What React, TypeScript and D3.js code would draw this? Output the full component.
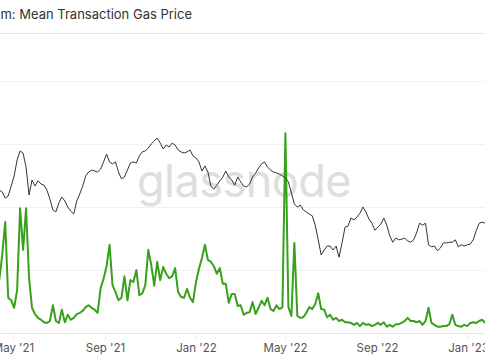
import React from 'react';
import * as d3 from 'd3';

// one sample every 4 days, starting 2021-04-12
const startDate = new Date(Date.UTC(2021, 3, 12));
const stepDays = 4;

// ETH price (USD), black line, log scale
const priceValues = [
  2470, 2410, 2230, 2290, 2600, 2960, 3630, 4070, 3960, 3310,
  2320, 2810, 2600, 2780, 2670, 2630, 2470, 2200, 1920, 1870,
  2100, 2260, 2150, 1990, 1890, 1820, 2150, 2350, 2600, 2960,
  3110, 3190, 3150, 3110, 3230, 3540, 3910, 3540, 3450, 3540,
  3110, 2850, 2920, 3190, 3490, 3540, 3490, 3820, 4020, 4070,
  4230, 4450, 4620, 4800, 4500, 4170, 4390, 4280, 4500, 4390,
  4120, 4020, 3960, 4020, 4120, 3820, 3720, 3540, 3150, 3360,
  3110, 2600, 2500, 2630, 2780, 2920, 3150, 2920, 2810, 2630,
  2920, 2740, 2600, 2570, 2670, 2920, 3070, 3270, 3450, 3540,
  3310, 3190, 3110, 3070, 3030, 2960, 2880, 2740, 2380, 2070,
  1990, 2040, 1920, 1870, 1820, 1780, 1580, 1310, 1080, 1150,
  1210, 1210, 1150, 1210, 1050, 1260, 1540, 1560, 1730, 1690,
  1750, 1840, 1990, 1870, 1710, 1620, 1480, 1540, 1600, 1730,
  1580, 1380, 1270, 1340, 1310, 1320, 1340, 1290, 1270, 1310,
  1430, 1620, 1580, 1620, 1230, 1200, 1210, 1140, 1180, 1260,
  1260, 1270, 1270, 1310, 1200, 1230, 1210, 1230, 1240, 1310,
  1470, 1620, 1640, 1620, 1670,
];

// mean transaction gas price (Gwei), green line
const gasValues = [
  84, 124, 176, 56, 52, 40, 68, 198, 132, 198,
  87, 40, 30, 24, 21, 17, 16, 19, 44, 19,
  16, 37, 17, 29, 21, 24, 30, 32, 35, 41,
  44, 40, 37, 32, 71, 86, 106, 140, 76, 65,
  52, 56, 90, 52, 84, 81, 100, 60, 63, 76,
  132, 108, 75, 113, 84, 105, 94, 87, 90, 103,
  65, 57, 56, 70, 56, 49, 81, 102, 119, 140,
  116, 113, 106, 94, 103, 78, 78, 48, 62, 62,
  43, 44, 29, 32, 33, 49, 30, 40, 51, 44,
  56, 38, 35, 44, 38, 41, 317, 41, 27, 143,
  27, 24, 25, 32, 41, 38, 46, 63, 38, 37,
  25, 29, 21, 24, 19, 21, 17, 17, 16, 13,
  16, 11, 16, 13, 14, 11, 13, 16, 13, 17,
  10, 13, 10, 14, 14, 16, 19, 24, 19, 19,
  17, 19, 13, 19, 40, 16, 13, 10, 10, 11,
  11, 14, 29, 13, 11, 10, 13, 11, 16, 17,
  16, 19, 21, 16, 19,
];

const gasGrid = [100, 200, 300, 400];
const tickDates = ['2021-05-01', '2021-09-01', '2022-01-01', '2022-05-01', '2022-09-01', '2023-01-01'];

const W = 485;
const H = 360;

export default function App() {
  const dates = priceValues.map((_, i) => d3.utcDay.offset(startDate, i * stepDays));

  const x = d3.scaleUtc()
    .domain([new Date(Date.UTC(2021, 4, 1)), new Date(Date.UTC(2023, 0, 1))])
    .range([13.4, 468]);
  const yPrice = d3.scaleLog().domain([1000, 4800]).range([261, 138]);
  const yGas = d3.scaleLinear().domain([0, 400]).range([333, 81]);

  const priceLine = d3.line<number>()
    .x((_, i) => x(dates[i]))
    .y((d) => yPrice(d));
  const gasLine = d3.line<number>()
    .x((_, i) => x(dates[i]))
    .y((d) => yGas(d));

  const fmt = d3.utcFormat("%b '%y");
  const font = 'Inter, "Open Sans", sans-serif';

  return (
    <svg width={W} height={H} style={{ position: 'fixed', left: 0, top: 0, background: '#fff' }}>
      <text x={192} y={19} textAnchor="end" fontFamily={font} fontSize={13} fill="#333">
        Ethereum: Mean Transaction Gas Price
      </text>
      <line x1={0} x2={W} y1={33.5} y2={33.5} stroke="#e4e4e4" />

      {gasGrid.map((g) => (
        <line key={g} x1={0} x2={W} y1={Math.round(yGas(g)) + 0.5} y2={Math.round(yGas(g)) + 0.5} stroke="#f0f0f0" />
      ))}
      <line x1={0} x2={W} y1={333.5} y2={333.5} stroke="#e6e6e6" />

      <text x={244} y={197} textAnchor="middle" fontFamily={font} fontSize={45} fill="#dedede" letterSpacing={-0.5}>
        glassnode
      </text>

      {tickDates.map((t) => {
        const d = new Date(t + 'T00:00:00Z');
        const tx = Math.round(x(d)) + 0.5;
        return (
          <g key={t}>
            <line x1={tx} x2={tx} y1={334} y2={340} stroke="#eeeeee" />
            <text x={tx} y={352} textAnchor="middle" fontFamily={font} fontSize={11.5} fill="#555">
              {fmt(d)}
            </text>
          </g>
        );
      })}

      <path d={gasLine(gasValues) || ''} fill="none" stroke="#36a11a" strokeWidth={2} strokeLinejoin="round" />
      <path d={priceLine(priceValues) || ''} fill="none" stroke="#333" strokeWidth={1} strokeLinejoin="round" />
    </svg>
  );
}
